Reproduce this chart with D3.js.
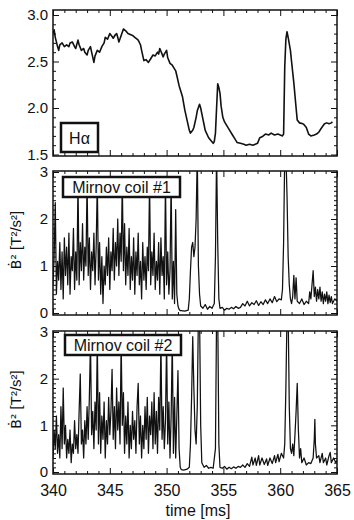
<!DOCTYPE html>
<html>
<head>
<meta charset="utf-8">
<script src="https://cdn.jsdelivr.net/npm/d3@7"></script>
<style>
  html, body { margin: 0; padding: 0; background: #fff; }
  text { font-family: "Liberation Sans", Arial, sans-serif; fill: #111; }
</style>
</head>
<body>
<svg id="chart" width="354" height="520"></svg>
<script>
// ---- axis ticks ----
const timeTicks = [340, 345, 350, 355, 360, 365];
const haTicks = [1.5, 2.0, 2.5, 3.0];
const coilTicks = [0, 1, 2, 3];

// ---- H-alpha emission (arb. units) ----
const haTime = [340.0,340.1,340.2,340.4,340.5,340.6,340.8,341.0,341.2,341.4,341.5,341.7,341.9,342.0,342.2,342.3,342.5,342.7,342.8,343.0,
  343.1,343.3,343.4,343.6,343.7,343.9,344.1,344.3,344.5,344.6,344.8,345.0,345.2,345.3,345.5,345.6,345.7,345.8,346.0,346.2,
  346.4,346.6,346.8,347.0,347.2,347.4,347.5,347.7,347.8,348.0,348.2,348.4,348.6,348.8,349.0,349.2,349.3,349.4,349.5,349.7,
  349.8,350.0,350.1,350.3,350.5,350.6,350.8,350.9,351.1,351.4,351.6,351.8,352.0,352.1,352.3,352.4,352.6,352.7,352.9,353.0,
  353.1,353.3,353.4,353.7,353.9,354.1,354.2,354.3,354.4,354.5,354.6,354.7,354.8,354.95,355.1,355.3,355.5,355.8,356.0,356.2,
  356.5,356.8,357.0,357.3,357.6,358.0,358.2,358.4,358.7,359.0,359.2,359.5,359.8,360.0,360.2,360.3,360.4,360.5,360.6,360.7,
  360.9,361.0,361.2,361.4,361.5,361.7,362.0,362.1,362.3,362.5,362.7,363.0,363.2,363.4,363.6,363.9,364.1,364.3,364.5,364.6];
const haValue = [2.80,2.84,2.76,2.66,2.62,2.68,2.70,2.66,2.68,2.66,2.70,2.71,2.66,2.64,2.73,2.68,2.62,2.64,2.60,2.57,
  2.62,2.66,2.60,2.49,2.56,2.62,2.60,2.66,2.70,2.76,2.74,2.80,2.77,2.75,2.79,2.80,2.76,2.71,2.78,2.85,
  2.83,2.80,2.79,2.78,2.76,2.74,2.73,2.68,2.62,2.51,2.52,2.49,2.53,2.57,2.56,2.60,2.58,2.64,2.61,2.55,
  2.58,2.62,2.54,2.48,2.46,2.44,2.40,2.35,2.24,2.12,1.98,1.87,1.76,1.73,1.76,1.79,1.90,1.97,2.04,2.00,
  1.94,1.82,1.76,1.68,1.65,1.62,1.64,1.73,2.00,2.26,2.22,2.16,2.02,1.90,1.85,1.81,1.77,1.71,1.67,1.63,
  1.62,1.61,1.60,1.61,1.60,1.62,1.68,1.69,1.72,1.71,1.73,1.71,1.72,1.71,1.70,1.72,2.44,2.74,2.82,2.76,
  2.62,2.50,2.27,2.00,1.87,1.84,1.83,1.82,1.79,1.72,1.70,1.71,1.72,1.74,1.78,1.83,1.84,1.83,1.84,1.85];

// ---- Mirnov coils: dense burst sampled every 0.1 ms from 340 ms ----
const burstStart = 340.0;
const burstStep = 0.1;
const coil1Burst = [0.6,1.2,2.35,0.4,1.1,0.7,1.5,0.5,1.3,0.3, 1.6,0.8,1.4,0.6,1.7,0.4,1.2,0.9,1.8,0.5,
  1.3,0.7,2.8,0.6,1.5,0.9,1.9,0.7,1.4,1.0, 2.8,0.8,1.6,0.5,1.3,0.9,1.7,0.6,1.4,2.8,
  0.7,1.5,0.4,1.2,0.2,1.0,0.6,1.4,0.8,1.6, 0.5,1.3,0.9,1.8,0.7,1.5,1.0,2.0,0.8,1.7,
  1.1,2.8,0.9,1.9,0.6,1.4,0.8,1.8,0.5,1.2, 0.7,1.6,0.4,1.3,0.8,1.7,0.6,1.1,0.3,1.5,
  0.7,1.2,0.5,1.4,0.9,2.8,0.6,1.3,0.8,1.7, 0.5,1.1,0.7,1.5,0.4,1.6,0.8,1.2,0.3,2.8,
  0.6,1.3,0.4,0.9,2.8,0.3,1.1,0.2,2.2,0.4, 0.15,0.08,0.05];
const coil2Burst = [0.3,0.9,0.5,1.2,0.4,0.8,0.3,1.4,0.5,1.8, 0.6,1.0,0.3,0.7,0.4,0.9,0.2,0.6,0.4,1.1,
  0.5,0.8,0.4,1.3,2.1,0.6,0.9,0.3,1.1,0.6, 1.4,0.7,1.6,2.8,0.8,1.3,0.5,1.5,0.9,2.8,
  0.6,1.7,0.4,1.2,0.7,1.5,0.3,1.1,0.6,1.6, 0.8,1.3,2.2,0.7,1.4,0.5,1.8,0.9,1.5,0.6,
  2.8,1.0,1.7,0.4,1.2,0.6,1.5,0.3,1.0,0.5, 1.3,0.7,1.1,0.4,1.4,1.9,0.6,1.2,0.3,1.0,
  0.5,1.4,0.7,1.6,0.4,1.2,0.8,1.5,0.5,1.7, 0.6,1.3,0.4,1.6,0.9,2.8,0.7,1.4,0.5,1.1,
  2.8,0.6,1.5,0.3,1.2,2.8,0.4,1.6,0.3,1.2, 2.17,0.5,0.1,0.05];

// ---- Mirnov coils: quieter phase after the burst ----
const coil1QuietTime = [351.3,351.6,351.9,352.0,352.1,352.2,352.3,352.4,352.5,352.6,352.7,352.8,352.9,353.0,353.2,353.4,353.6,353.8,354.0,354.2,
  354.3,354.4,354.5,354.6,354.7,354.9,355.1,355.3,355.5,355.7,355.9,356.1,356.3,356.5,356.7,356.9,357.1,357.3,357.5,357.7,
  357.9,358.1,358.3,358.5,358.7,358.9,359.1,359.3,359.5,359.7,359.9,360.1,360.2,360.3,360.4,360.5,360.6,360.7,360.8,360.9,
  361.0,361.1,361.2,361.3,361.4,361.5,361.7,361.9,362.1,362.3,362.5,362.6,362.7,362.8,362.9,363.0,363.1,363.2,363.3,363.4,
  363.5,363.6,363.7,363.8,363.9,364.0,364.1,364.2,364.3,364.4,364.5,364.6,364.8,365.0];
const coil1QuietValue = [0.05,0.04,0.06,0.3,0.9,1.4,1.5,1.2,1.4,2.0,3.4,1.0,0.4,0.15,0.1,0.18,0.08,0.14,0.1,0.2,
  1.2,3.4,1.5,0.3,0.1,0.12,0.06,0.1,0.08,0.12,0.09,0.14,0.1,0.12,0.2,0.15,0.25,0.15,0.22,0.18,
  0.26,0.16,0.24,0.18,0.28,0.2,0.3,0.22,0.35,0.24,0.3,0.28,0.5,1.5,3.4,3.4,2.5,1.2,0.6,0.3,
  0.2,0.35,0.8,0.3,0.75,0.25,0.2,0.3,0.18,0.25,0.2,0.45,0.3,0.6,0.9,0.35,0.55,0.25,0.5,0.3,
  0.55,0.25,0.45,0.2,0.4,0.25,0.45,0.2,0.38,0.22,0.35,0.2,0.3,0.25];
const coil2QuietTime = [351.5,351.8,352.0,352.1,352.2,352.3,352.4,352.5,352.6,352.7,352.8,352.9,353.0,353.1,353.3,353.5,353.7,353.9,354.1,354.3,
  354.4,354.5,354.6,354.7,354.9,355.1,355.3,355.5,355.7,355.9,356.1,356.3,356.5,356.7,356.9,357.1,357.3,357.5,357.6,357.8,
  357.9,358.1,358.2,358.4,358.6,358.8,358.9,359.1,359.3,359.5,359.6,359.8,359.9,360.1,360.3,360.4,360.5,360.6,360.7,360.8,
  360.9,361.0,361.1,361.2,361.3,361.4,361.5,361.6,361.7,361.8,361.9,362.1,362.3,362.5,362.7,362.9,363.0,363.05,363.1,363.2,
  363.4,363.5,363.7,363.8,364.0,364.1,364.3,364.4,364.5,364.7,364.9,365.0];
const coil2QuietValue = [0.04,0.06,0.1,0.6,1.6,2.9,1.8,0.9,0.6,1.4,3.4,3.4,1.0,0.2,0.1,0.14,0.08,0.1,0.08,0.5,
  3.4,3.4,0.6,0.1,0.08,0.12,0.06,0.1,0.07,0.11,0.08,0.12,0.1,0.15,0.1,0.18,0.12,0.32,0.15,0.3,
  0.14,0.35,0.15,0.3,0.16,0.28,0.14,0.3,0.18,0.35,0.2,0.38,0.22,0.4,0.3,0.6,1.8,3.4,3.4,1.4,
  0.5,0.4,0.6,0.35,0.8,1.3,1.9,0.9,0.3,0.5,0.2,0.3,0.15,0.2,0.18,0.3,0.7,1.13,0.6,0.3,
  0.35,0.2,0.4,0.2,0.3,0.15,0.35,0.42,0.2,0.3,0.2,0.25];

// ---- assemble series ----
function series(burst, qt, qv) {
  const pts = burst.map((v, i) => ({ t: burstStart + i * burstStep, v }));
  return pts.concat(qt.map((t, i) => ({ t, v: qv[i] })));
}
const haSeries = haTime.map((t, i) => ({ t, v: haValue[i] }));
const coil1 = series(coil1Burst, coil1QuietTime, coil1QuietValue);
const coil2 = series(coil2Burst, coil2QuietTime, coil2QuietValue);

const svg = d3.select("#chart");
const x = d3.scaleLinear().domain([340, 365]).range([53, 337]);
const left = 53, right = 337;

const panels = [
  { id: "ha", data: haSeries, top: 10, bottom: 156, domain: [1.5, 3.0], range: [154.5, 15],
    major: haTicks, minorStep: 0.1, fmt: d3.format(".1f"), width: 1.6,
    label: "H\u03b1", box: [61, 123, 37, 29], xLabels: false },
  { id: "c1", data: coil1, top: 171, bottom: 315, domain: [0, 3], range: [313, 172],
    major: coilTicks, minorStep: 0.1, fmt: d3.format("d"), width: 1.25,
    label: "Mirnov coil #1", box: [63, 177, 117, 20], xLabels: false },
  { id: "c2", data: coil2, top: 331, bottom: 474, domain: [0, 3], range: [472, 332],
    major: coilTicks, minorStep: 0.1, fmt: d3.format("d"), width: 1.25,
    label: "Mirnov coil #2", box: [65, 335, 116, 20], xLabels: true }
];

const minorTime = d3.range(340, 365.01, 1).filter(t => t % 5 !== 0);

panels.forEach(p => {
  const y = d3.scaleLinear().domain(p.domain).range(p.range);
  const g = svg.append("g");

  g.append("clipPath").attr("id", "clip-" + p.id)
    .append("rect").attr("x", left).attr("y", p.top)
    .attr("width", right - left).attr("height", p.bottom - p.top);

  // trace
  const line = d3.line().x(d => x(d.t)).y(d => y(d.v));
  g.append("path").datum(p.data)
    .attr("clip-path", `url(#clip-${p.id})`)
    .attr("fill", "none").attr("stroke", "#111")
    .attr("stroke-width", p.width).attr("stroke-linejoin", "round")
    .attr("d", line);

  // frame
  g.append("rect").attr("x", left).attr("y", p.top)
    .attr("width", right - left).attr("height", p.bottom - p.top)
    .attr("fill", "none").attr("stroke", "#111").attr("stroke-width", 1.5);

  const lo = Math.min(...p.domain), hi = Math.max(...p.domain);
  const minorY = d3.range(lo, hi + 1e-9, p.minorStep)
    .map(v => +v.toFixed(2))
    .filter(v => !p.major.some(m => Math.abs(m - v) < 1e-6));

  // left axis (inward ticks, labelled)
  const gl = g.append("g").attr("transform", `translate(${left},0)`)
    .call(d3.axisLeft(y).tickValues(p.major).tickFormat(p.fmt).tickSize(-6).tickPadding(5));
  gl.append("g").call(d3.axisLeft(y).tickValues(minorY).tickFormat("").tickSize(-3));
  // right axis
  const gr = g.append("g").attr("transform", `translate(${right},0)`)
    .call(d3.axisRight(y).tickValues(p.major).tickFormat("").tickSize(-6));
  gr.append("g").call(d3.axisRight(y).tickValues(minorY).tickFormat("").tickSize(-3));
  // top axis
  const gt = g.append("g").attr("transform", `translate(0,${p.top})`)
    .call(d3.axisTop(x).tickValues(timeTicks).tickFormat("").tickSize(-6));
  gt.append("g").call(d3.axisTop(x).tickValues(minorTime).tickFormat("").tickSize(-3));
  // bottom axis
  const gb = g.append("g").attr("transform", `translate(0,${p.bottom})`)
    .call(d3.axisBottom(x).tickValues(timeTicks)
      .tickFormat(p.xLabels ? d3.format("d") : "").tickSize(-6).tickPadding(11));
  gb.append("g").call(d3.axisBottom(x).tickValues(minorTime).tickFormat("").tickSize(-3));

  g.selectAll(".domain").remove();
  g.selectAll(".tick line").attr("stroke", "#111").attr("stroke-width", 1);
  gl.selectAll(".tick text").style("font-size", "15px").attr("fill", "#111");
  gb.selectAll(".tick text").style("font-size", "16px").attr("fill", "#111");

  // label box
  const [bx, by, bw, bh] = p.box;
  g.append("rect").attr("x", bx).attr("y", by).attr("width", bw).attr("height", bh)
    .attr("fill", "#fff").attr("stroke", "#111").attr("stroke-width", 2.5);
  g.append("text").attr("x", bx + bw / 2).attr("y", by + bh / 2 + 6)
    .attr("text-anchor", "middle").style("font-size", "16px").text(p.label);

  // y title for the coil panels
  if (p.id !== "ha") {
    const cy = (p.top + p.bottom) / 2 - 3;
    const t = g.append("text")
      .attr("transform", `translate(21,${cy}) rotate(-90)`)
      .attr("text-anchor", "middle").style("font-size", "15px");
    t.append("tspan").style("font-family", "'DejaVu Sans', sans-serif").style("font-size", "14px").text("\u1E02\u00B2");
    t.append("tspan").text(" [T\u00B2/s\u00B2]");
  }
});

svg.append("text").attr("x", 198).attr("y", 516)
  .attr("text-anchor", "middle").style("font-size", "16px").text("time [ms]");
</script>
</body>
</html>
